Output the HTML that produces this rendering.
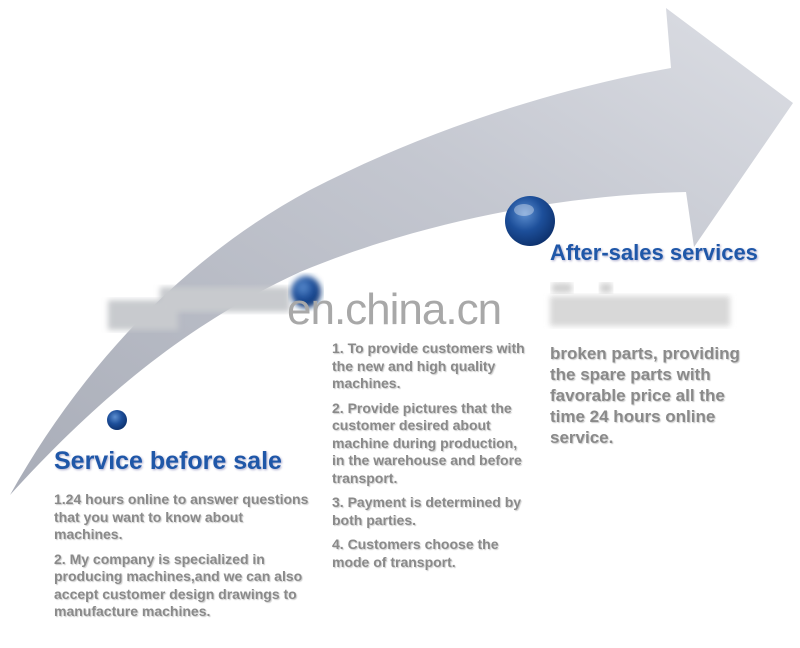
<!DOCTYPE html>
<html><head><meta charset="utf-8"><style>
html,body{margin:0;padding:0;background:#fff}
body{width:800px;height:648px;position:relative;overflow:hidden;font-family:"Liberation Sans",sans-serif}
.t{position:absolute;color:#8a8a8a;font-weight:bold;font-size:14px;line-height:17.5px;letter-spacing:0;text-shadow:1px 1px 1px #ccc;white-space:nowrap}
.t p{margin:0 0 7px 0}
.h{position:absolute;color:#1f57a8;font-weight:bold;text-shadow:1px 1px 2px #aac;letter-spacing:0}
</style></head><body>
<svg width="800" height="648" style="position:absolute;left:0;top:0">
<defs>
<linearGradient id="g" x1="0" y1="1" x2="1" y2="0">
<stop offset="0" stop-color="#a9adb8"/><stop offset="0.6" stop-color="#c4c7d0"/><stop offset="1" stop-color="#dcdee4"/></linearGradient>
<radialGradient id="b" cx="0.4" cy="0.35" r="0.7"><stop offset="0" stop-color="#5d8fd0"/><stop offset="0.5" stop-color="#1d4f9a"/><stop offset="1" stop-color="#0c2f6a"/></radialGradient>
<filter id="bl"><feGaussianBlur stdDeviation="3"/></filter>
</defs>
<path d="M10,495 C80,370 180,260 310,190 C430,128 560,88 671,68 L666,8 L793,103 L694,247 L686,192 C560,195 420,222 300,272 C200,318 110,385 10,495 Z" fill="url(#g)"/>
<rect x="108" y="300" width="70" height="30" fill="#c8cace" filter="url(#bl)"/>
<rect x="160" y="287" width="130" height="25" fill="#c8cace" filter="url(#bl)"/>
<ellipse cx="306" cy="292" rx="15" ry="16" fill="url(#b)" filter="url(#bl)"/>
<circle cx="117" cy="420" r="10" fill="url(#b)"/>
<circle cx="530" cy="221" r="25" fill="url(#b)"/>
<ellipse cx="524" cy="210" rx="10" ry="6" fill="#fff" opacity="0.35"/>
<rect x="550" y="296" width="180" height="30" fill="#d8d8d8" filter="url(#bl)"/>
<rect x="552" y="283" width="20" height="10" fill="#d0d0d0" filter="url(#bl)"/>
<rect x="600" y="283" width="12" height="10" fill="#d0d0d0" filter="url(#bl)"/>
</svg>
<div style="position:absolute;left:287px;top:285px;font-size:44px;color:#a8a8a8;letter-spacing:-1px">en.china.cn</div>
<div class="h" style="left:54px;top:447px;font-size:25px">Service before sale</div>
<div class="t" style="left:54px;top:491px"><p>1.24 hours online to answer questions<br>that you want to know about<br>machines.</p><p>2. My company is specialized in<br>producing machines,and we can also<br>accept customer design drawings to<br>manufacture machines.</p></div>
<div class="t" style="left:332px;top:340px"><p>1. To provide customers with<br>the new and high quality<br>machines.</p><p>2. Provide pictures that the<br>customer desired about<br>machine during production,<br>in the warehouse and before<br>transport.</p><p>3. Payment is determined by<br>both parties.</p><p>4. Customers choose the<br>mode of transport.</p></div>
<div class="h" style="left:550px;top:240px;font-size:22px">After-sales services</div>
<div class="t" style="left:550px;top:343px;font-size:17px;line-height:21px">broken parts, providing<br>the spare parts with<br>favorable price all the<br>time 24 hours online<br>service.</div>
</body></html>
